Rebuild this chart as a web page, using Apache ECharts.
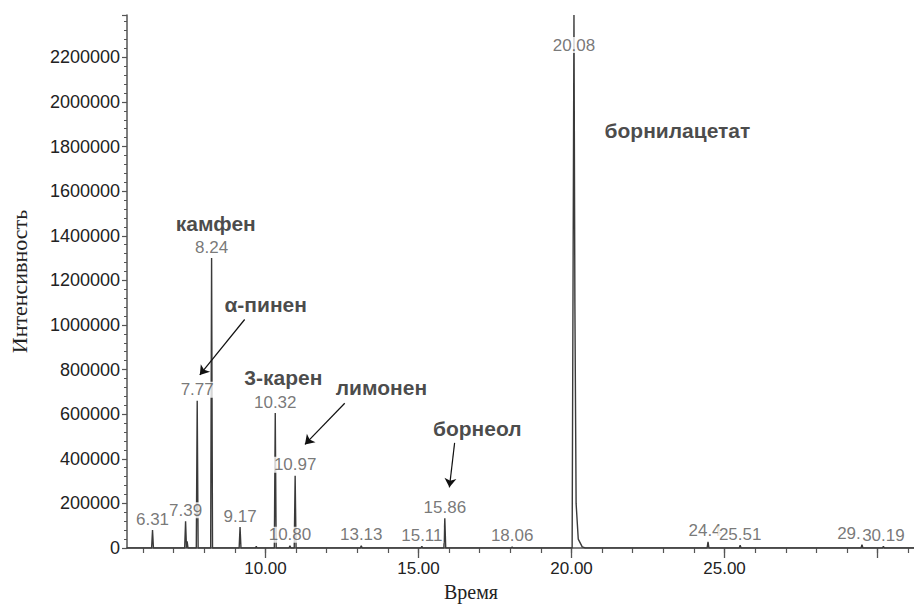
<!DOCTYPE html>
<html>
<head>
<meta charset="utf-8">
<script src="https://cdn.jsdelivr.net/npm/echarts@6/dist/echarts.min.js"></script>
<style>
html,body{margin:0;padding:0;background:#fff;}
#chart{width:914px;height:607px;}
</style>
</head>
<body>
<div id="chart"></div>
<script>
// Chromatogram trace (retention time, min ; intensity)
const traceTimes = [5.47, 6.28, 6.31, 6.34, 7.36, 7.39, 7.42, 7.44, 7.47, 7.74, 7.77, 7.80,
  8.21, 8.24, 8.27, 9.14, 9.17, 9.20, 9.68, 9.70, 9.72, 10.29, 10.32, 10.35, 10.77, 10.80, 10.83,
  10.94, 10.97, 11.00, 13.10, 13.13, 13.16, 15.08, 15.11, 15.14, 15.83, 15.86, 15.89, 18.03, 18.06, 18.09,
  20.02, 20.05, 20.08, 20.11, 20.15, 20.22, 20.35, 20.45, 24.43, 24.46, 24.49, 25.48, 25.51, 25.54,
  29.46, 29.49, 29.52, 30.16, 30.19, 30.22, 31.19];
const traceValues = [0, 0, 80000, 0, 0, 120000, 0, 30000, 0, 0, 660000, 0,
  0, 1300000, 0, 0, 94000, 0, 0, 8000, 0, 0, 605000, 0, 0, 10000, 0,
  0, 324000, 0, 0, 10000, 0, 0, 8000, 0, 0, 133000, 0, 0, 5000, 0,
  0, 1200000, 2390000, 1100000, 200000, 40000, 5000, 0, 0, 27000, 0, 0, 12000, 0,
  0, 15000, 0, 0, 8000, 0, 0];

// Labelled peaks
const peakTimes = [6.31, 7.39, 7.77, 8.24, 9.17, 10.32, 10.80, 10.97, 13.13, 15.11, 15.86, 18.06, 20.08, 24.46, 25.51, 29.49, 30.19];
const peakHeights = [80000, 120000, 660000, 1300000, 94000, 605000, 10000, 324000, 10000, 8000, 133000, 5000, 2390000, 27000, 12000, 15000, 8000];

// Compound names (annotation anchors in data units)
const compoundNames = ['камфен', 'α-пинен', '3-карен', 'лимонен', 'борнеол', 'борнилацетат'];
const compoundTimes = [8.377, 10.007, 10.583, 13.79, 16.92, 23.46];
const compoundLevels = [1454900, 1091200, 762900, 718600, 536700, 1871800];

// Arrows: start -> end (data units)
const arrowStartTimes = [9.32, 12.59, 16.18];
const arrowStartLevels = [1024600, 648900, 471500];
const arrowEndTimes = [7.855, 11.29, 16.01];
const arrowEndLevels = [776200, 464400, 271900];

// Axis ticks
const xMajorTicks = [10, 15, 20, 25, 30];
const xLabelTicks = [10, 15, 20, 25];
const xMinorTicks = [6,7,8,9,10,11,12,13,14,15,16,17,18,19,20,21,22,23,24,25,26,27,28,29,30,31];

const X_MIN = 5.476, X_MAX = 31.19, Y_MAX = 2390000;

const chart = echarts.init(document.getElementById('chart'), null, {renderer: 'svg'});

const trace = traceTimes.map((t, i) => [t, traceValues[i]]);
// label tweaks: 20.08 sits over its own peak line; 24.46 and 29.49 are partly hidden by neighbours in the original
const labelTweaks = {
  '20.08': {offset: [0, 41]},
  '24.46': {width: 38, overflow: 'truncate', ellipsis: '', offset: [-3, 0]},
  '29.49': {width: 31, overflow: 'truncate', ellipsis: '', offset: [-13, 0]}
};
const peaks = peakTimes.map((t, i) => {
  const key = t.toFixed(2);
  const item = {value: [t, peakHeights[i]], name: key};
  if (labelTweaks[key]) item.label = labelTweaks[key];
  return item;
});
const names = compoundNames.map((n, i) => ({value: [compoundTimes[i], compoundLevels[i]], name: n}));
const arrows = arrowStartTimes.map((t, i) => [
  {coord: [t, arrowStartLevels[i]]},
  {coord: [arrowEndTimes[i], arrowEndLevels[i]]}
]);

const axisColor = '#555';
const sans = '"Liberation Sans", Arial, sans-serif';
const serif = '"Liberation Serif", "Times New Roman", serif';

chart.setOption({
  animation: false,
  backgroundColor: '#fff',
  grid: {left: 125, right: 0, top: 15, bottom: 54, containLabel: false},
  xAxis: [{
    type: 'value', min: X_MIN, max: X_MAX, position: 'bottom',
    name: 'Время', nameLocation: 'middle', nameGap: 34,
    nameTextStyle: {fontFamily: serif, fontSize: 20, color: '#222', padding: [0, 99, 0, 0]},
    axisLine: {lineStyle: {color: axisColor, width: 1.5}},
    axisTick: {customValues: xMajorTicks, length: 10, lineStyle: {color: axisColor, width: 1.3}},
    axisLabel: {customValues: xLabelTicks, formatter: v => Number(v).toFixed(2), margin: 12,
      fontFamily: sans, fontSize: 17, color: '#222'},
    splitLine: {show: false}
  }, {
    type: 'value', min: X_MIN, max: X_MAX, position: 'bottom', offset: 0,
    axisLine: {show: false},
    axisTick: {customValues: xMinorTicks, length: 5, lineStyle: {color: axisColor, width: 1.2}},
    axisLabel: {show: false},
    splitLine: {show: false}
  }],
  yAxis: {
    type: 'value', min: 0, max: Y_MAX, interval: 200000,
    name: 'Интенсивность', nameLocation: 'middle', nameGap: 97,
    nameTextStyle: {fontFamily: serif, fontSize: 22, color: '#222'},
    axisLine: {show: true, lineStyle: {color: axisColor, width: 1.5}},
    axisTick: {show: true, length: 5, lineStyle: {color: axisColor, width: 1.2}},
    minorTick: {show: true, splitNumber: 5, length: 3, lineStyle: {color: axisColor, width: 1}},
    axisLabel: {formatter: v => String(v), showMaxLabel: false, margin: 7,
      fontFamily: sans, fontSize: 18, color: '#222'},
    splitLine: {show: false}
  },
  series: [{
    type: 'line', data: trace, showSymbol: false, symbol: 'none',
    lineStyle: {color: '#3a3a3a', width: 1.4}, z: 2, silent: true
  }, {
    type: 'scatter', data: peaks, symbolSize: 0, z: 5, silent: true,
    label: {show: true, position: 'top', distance: 3, formatter: p => p.name,
      fontFamily: sans, fontSize: 17, color: '#555', backgroundColor: '#fff',
      padding: [0, 1], lineHeight: 16}
  }, {
    type: 'scatter', data: names, symbolSize: 0, z: 6, silent: true,
    label: {show: true, position: 'inside', formatter: p => p.name,
      fontFamily: sans, fontSize: 21, fontWeight: 'bold', color: '#1a1a1a'},
    markLine: {
      silent: true, symbol: ['none', 'arrow'], symbolSize: 9,
      label: {show: false},
      lineStyle: {color: '#111', width: 1.2, type: 'solid'},
      data: arrows
    }
  }]
});
</script>
</body>
</html>
